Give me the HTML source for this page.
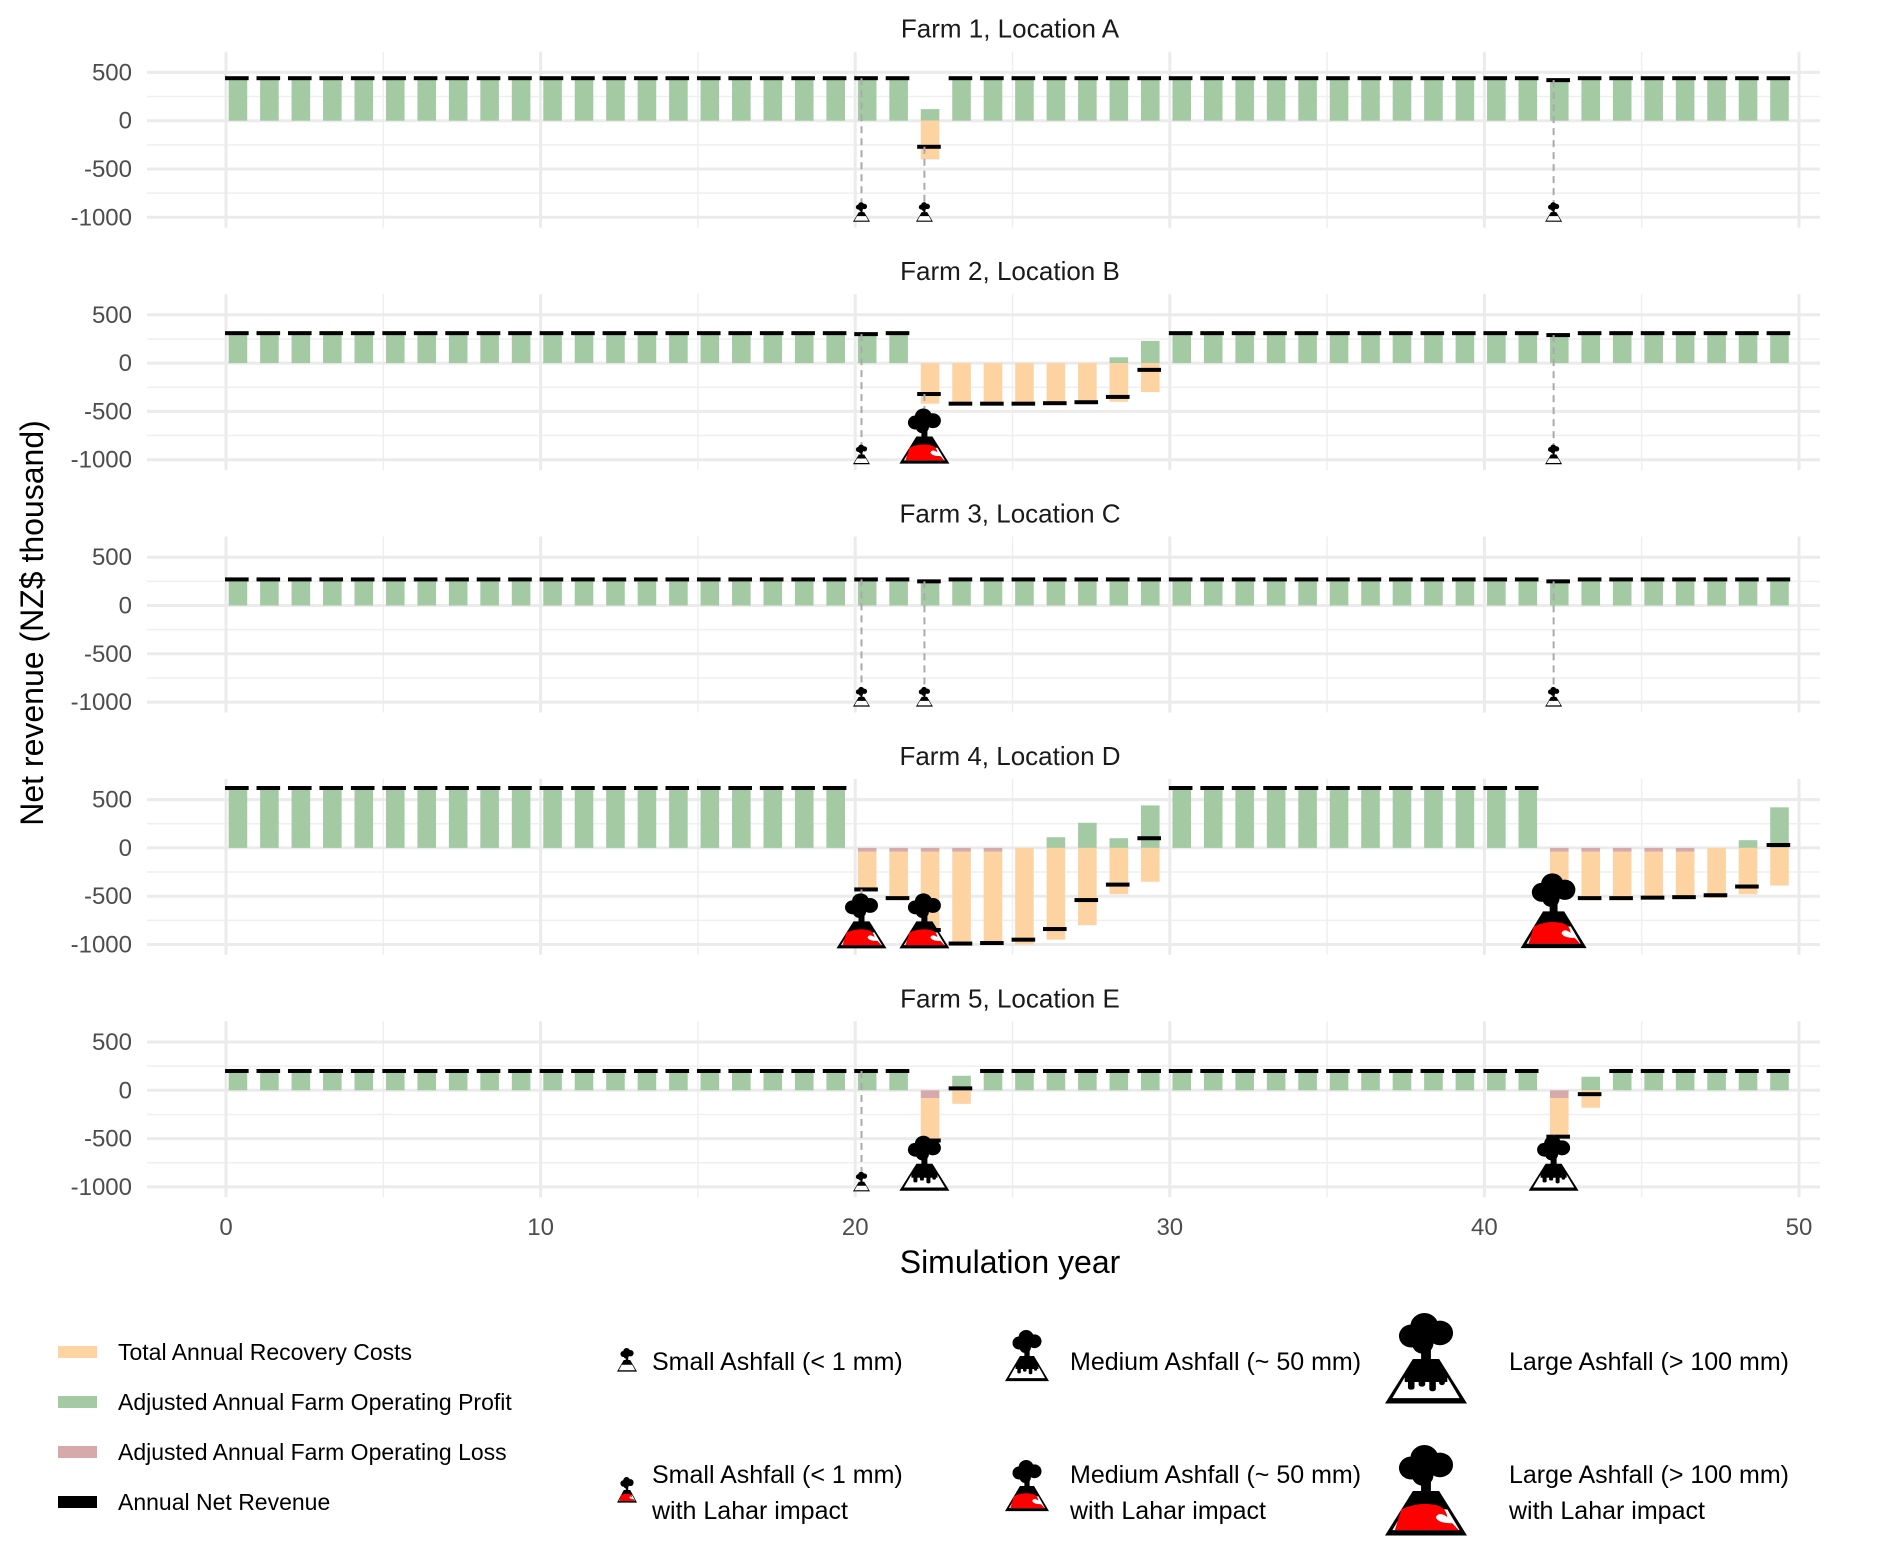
<!DOCTYPE html>
<html><head><meta charset="utf-8">
<style>
html,body{margin:0;padding:0;background:#fff;}
svg text{font-family:"Liberation Sans",Arial,sans-serif;}
</style></head>
<body>
<svg id="chart" xmlns="http://www.w3.org/2000/svg" width="1892" height="1557" viewBox="0 0 1892 1557">
<defs>
 <g id="ico-base">
  <path d="M34,60 L66,60 L100,118 L0,118 Z" fill="#000"/>
  <path d="M24,84 L76,84 L91,111 L9,111 Z" fill="#fff"/>
  <circle cx="32" cy="30" r="15" fill="#000"/><circle cx="48" cy="17" r="17" fill="#000"/>
  <circle cx="67" cy="26" r="16" fill="#000"/><circle cx="46" cy="40" r="13" fill="#000"/>
  <rect x="44" y="44" width="12" height="20" fill="#000"/>
 </g>
 <g id="ico-drip">
  <rect x="24" y="82" width="52" height="8" fill="#000"/>
  <rect x="28" y="84" width="8" height="16" rx="3" fill="#000"/><rect x="41" y="84" width="8" height="12" rx="3" fill="#000"/>
  <rect x="54" y="84" width="8" height="18" rx="3" fill="#000"/><rect x="66" y="84" width="7" height="10" rx="3" fill="#000"/>
 </g>
 <g id="ico-lahar">
  <path d="M12,111 L20,84 Q40,74 60,78 Q74,80 76,94 Q66,86 62,94 Q64,102 82,102 L90,111 Z" fill="#f00"/>
 </g>
</defs>
<g id="plot"></g>
<text x="0" y="0" transform="translate(43,623) rotate(-90)" text-anchor="middle" font-size="32" fill="#000">Net revenue (NZ$ thousand)</text>
<text x="1010" y="1273" text-anchor="middle" font-size="32" fill="#000">Simulation year</text>
<g id="legend"></g>
</svg>
<script>
const farms = ["Farm 1, Location A","Farm 2, Location B","Farm 3, Location C","Farm 4, Location D","Farm 5, Location E"];
const yTicks = [500,0,-500,-1000];
const xTicks = [0,10,20,30,40,50];
function fill(n,v){const a=[];for(let i=0;i<n;i++)a.push(v);return a;}
const profit1 = fill(50,440); profit1[22]=120;
const loss1 = fill(50,0);
const recov1 = fill(50,0); recov1[22]=-400;
const net1 = fill(50,440); net1[22]=-270; net1[42]=420;

const profit2 = fill(50,310); [22,23,24,25,26,27].forEach(i=>profit2[i]=0); profit2[28]=60; profit2[29]=230;
const loss2 = fill(50,0);
const recov2 = fill(50,0); recov2[22]=-420; recov2[23]=-420; recov2[24]=-420; recov2[25]=-420; recov2[26]=-420; recov2[27]=-410; recov2[28]=-400; recov2[29]=-300;
const net2 = fill(50,310); net2[20]=300; net2[22]=-320; net2[23]=-420; net2[24]=-420; net2[25]=-420; net2[26]=-415; net2[27]=-405; net2[28]=-350; net2[29]=-70; net2[42]=290;

const profit3 = fill(50,270);
const loss3 = fill(50,0);
const recov3 = fill(50,0);
const net3 = fill(50,270); net3[22]=250; net3[42]=250;

const profit4 = fill(50,620);
[20,21,22,23,24,25,42,43,44,45,46,47].forEach(i=>profit4[i]=0);
profit4[26]=110; profit4[27]=260; profit4[28]=100; profit4[29]=440; profit4[48]=80; profit4[49]=420;
const loss4 = fill(50,0); [20,21,22,23,24,42,43,44,45,46].forEach(i=>loss4[i]=-40);
const recov4 = fill(50,0);
recov4[20]=-410; recov4[21]=-480; recov4[22]=-960; recov4[23]=-960; recov4[24]=-960; recov4[25]=-1000; recov4[26]=-950; recov4[27]=-800; recov4[28]=-480; recov4[29]=-350;
recov4[42]=-480; recov4[43]=-480; recov4[44]=-480; recov4[45]=-480; recov4[46]=-480; recov4[47]=-520; recov4[48]=-480; recov4[49]=-390;
const net4 = fill(50,620);
net4[20]=-430; net4[21]=-520; net4[22]=-850; net4[23]=-990; net4[24]=-985; net4[25]=-950; net4[26]=-840; net4[27]=-540; net4[28]=-380; net4[29]=100;
net4[42]=-500; net4[43]=-520; net4[44]=-520; net4[45]=-515; net4[46]=-510; net4[47]=-490; net4[48]=-400; net4[49]=30;

const profit5 = fill(50,200); profit5[22]=0; profit5[23]=150; profit5[42]=0; profit5[43]=140;
const loss5 = fill(50,0); loss5[22]=-80; loss5[42]=-80;
const recov5 = fill(50,0); recov5[22]=-450; recov5[23]=-140; recov5[42]=-400; recov5[43]=-180;
const net5 = fill(50,200); net5[22]=-520; net5[23]=20; net5[42]=-480; net5[43]=-40;

const profits=[profit1,profit2,profit3,profit4,profit5];
const losses=[loss1,loss2,loss3,loss4,loss5];
const recovs=[recov1,recov2,recov3,recov4,recov5];
const nets=[net1,net2,net3,net4,net5];
const evYears = [20,22,42, 20,22,42, 20,22,42, 20,22,42, 20,22,42];
const evFarm  = [0,0,0, 1,1,1, 2,2,2, 3,3,3, 4,4,4];
const evSize  = ["s","s","s", "s","m","s", "s","s","s", "m","m","l", "s","m","m"];
const evLahar = [0,0,0, 0,1,0, 0,0,0, 1,1,1, 0,0,0];

const NS="http://www.w3.org/2000/svg";
const plot=document.getElementById('plot');
function mk(tag,attrs,parent){const e=document.createElementNS(NS,tag);for(const k in attrs)e.setAttribute(k,attrs[k]);(parent||plot).appendChild(e);return e;}
const X=t=>226+t*31.46;
const zero=k=>120.7+k*242.4;
const Y=(k,v)=>zero(k)-v*0.0966;
const sizes={s:[17,20],m:[50,56],l:[66,76]};

function icon(parent,cx,bottom,w,h,lahar,drip){
  const g=mk('g',{transform:`translate(${cx-w/2},${bottom-h}) scale(${w/100},${h/120})`},parent);
  mk('use',{href:'#ico-base'},g);
  if(drip) mk('use',{href:'#ico-drip'},g);
  if(lahar) mk('use',{href:'#ico-lahar'},g);
  return g;
}

for(let k=0;k<5;k++){
  const pg=mk('g',{});
  
  
  [250,-250,-750].forEach(v=>mk('line',{x1:147,x2:1820,y1:Y(k,v),y2:Y(k,v),stroke:'#efefef','stroke-width':1.5},pg));
  for(let t=5;t<=45;t+=10) mk('line',{x1:X(t),x2:X(t),y1:zero(k)-69,y2:zero(k)+107,stroke:'#efefef','stroke-width':1.5},pg);
  yTicks.forEach(v=>mk('line',{x1:147,x2:1820,y1:Y(k,v),y2:Y(k,v),stroke:'#ebebeb','stroke-width':3},pg));
  xTicks.forEach(t=>mk('line',{x1:X(t),x2:X(t),y1:zero(k)-69,y2:zero(k)+107,stroke:'#ebebeb','stroke-width':3},pg));
  yTicks.forEach(v=>{const tx=mk('text',{x:132,y:Y(k,v)+8,'text-anchor':'end','font-size':24,fill:'#4d4d4d'},pg);tx.textContent=v;
    
    });
  const tt=mk('text',{x:1010,y:zero(k)-83,'text-anchor':'middle','font-size':26,fill:'#1a1a1a'},pg);
  tt.textContent=farms[k];
  
  
  for(let i=0;i<50;i++){
    const bx=X(i+0.38)-9.3, bw=18.6;
    const p=profits[k][i], l=losses[k][i], r=recovs[k][i];
    if(p>0){const b=mk('rect',{x:bx,y:Y(k,p),width:bw,height:Y(k,0)-Y(k,p),fill:'#a4caa4'},pg);
      
      }
    if(l<0){const b=mk('rect',{x:bx,y:Y(k,0),width:bw,height:Y(k,l)-Y(k,0),fill:'#d6aaaa'},pg);
      
      }
    if(r<0){const b=mk('rect',{x:bx,y:Y(k,l),width:bw,height:Y(k,l+r)-Y(k,l),fill:'#fdd3a2'},pg);
      
      }
  }
  for(let i=0;i<50;i++){
    const s=mk('rect',{x:X(i-0.03),y:Y(k,nets[k][i])-2,width:23.6,height:4,fill:'#000'},pg);
    
    
  }
}
for(let e=0;e<evYears.length;e++){
  const k=evFarm[e], t=evYears[e], cx=X(t+0.2);
  const [w,h]=sizes[evSize[e]];
  const bottom=Y(k,-1050);
  const top=Y(k,nets[k][t]);
  const dl=mk('line',{x1:cx,x2:cx,y1:top,y2:bottom-h,stroke:'#aaa','stroke-width':2,'stroke-dasharray':'7,5'});
  
  
  const g=icon(plot,cx,bottom,w,h,evLahar[e],evSize[e]!=='s'&&!evLahar[e]);
  
  
}
xTicks.forEach(t=>{const tx=mk('text',{x:X(t),y:1235,'text-anchor':'middle','font-size':24,fill:'#4d4d4d'});tx.textContent=t;
  
  });

const leg=document.getElementById('legend');
const legLabels=["Total Annual Recovery Costs","Adjusted Annual Farm Operating Profit","Adjusted Annual Farm Operating Loss","Annual Net Revenue"];
const legColors=["#fdd3a2","#a4caa4","#d6aaaa","#000"];
legLabels.forEach((lab,i)=>{
  const y=1352+i*50;
  const r=mk('rect',{x:58,y:y-6,width:39,height:12,fill:legColors[i]},leg);
  
  
  const tx=mk('text',{x:118,y:y+8,'font-size':23,fill:'#000'},leg);tx.textContent=lab;
  
  
});
const iconLeg=[
 {x:627,tx:652,y:1372,w:20,h:24,la:0,dr:0,l1:"Small Ashfall (< 1 mm)"},
 {x:1027,tx:1070,y:1382,w:44,h:52,la:0,dr:1,l1:"Medium Ashfall (~ 50 mm)"},
 {x:1426,tx:1509,y:1405,w:82,h:92,la:0,dr:1,l1:"Large Ashfall (> 100 mm)"},
 {x:627,tx:652,y:1503,w:20,h:26,la:1,dr:0,l1:"Small Ashfall (< 1 mm)",l2:"with Lahar impact"},
 {x:1027,tx:1070,y:1512,w:44,h:52,la:1,dr:0,l1:"Medium Ashfall (~ 50 mm)",l2:"with Lahar impact"},
 {x:1426,tx:1509,y:1537,w:82,h:92,la:1,dr:0,l1:"Large Ashfall (> 100 mm)",l2:"with Lahar impact"}];
iconLeg.forEach((d,i)=>{
  const g=icon(leg,d.x,d.y,d.w,d.h,d.la,d.dr);
  
  
  const base = d.l2 ? 1483 : 1370;
  const tx=mk('text',{x:d.tx,y:base,'font-size':25,fill:'#000'},leg);tx.textContent=d.l1;
  
  
  if(d.l2){const t2=mk('text',{x:d.tx,y:base+36,'font-size':25,fill:'#000'},leg);t2.textContent=d.l2;
    
    }
});
</script>
</body></html>
